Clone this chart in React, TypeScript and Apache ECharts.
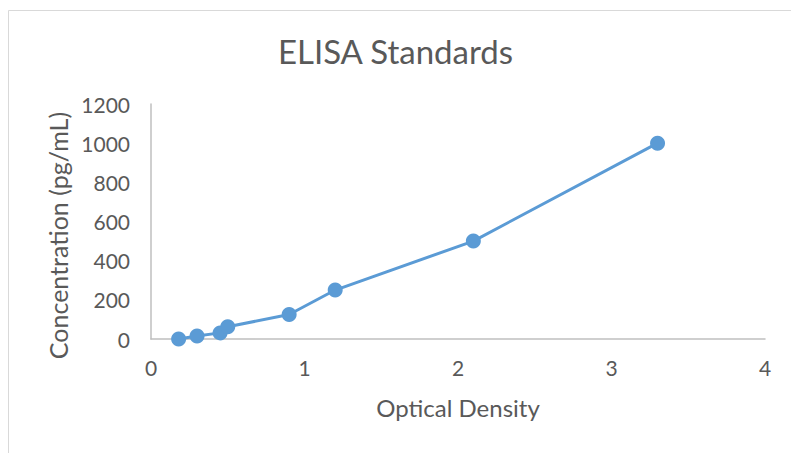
import React, { useEffect, useRef } from "react";
import * as echarts from "echarts";

const opticalDensity = [0.18, 0.3, 0.45, 0.5, 0.9, 1.2, 2.1, 3.3];
const concentration = [0, 15.6, 31.25, 62.5, 125, 250, 500, 1000];

const TEXT = "#595959";
const FONT = "Lato";

export default function App() {
  const ref = useRef<HTMLDivElement>(null);
  useEffect(() => {
    const chart = echarts.init(ref.current!, undefined, { renderer: "svg" });
    chart.setOption({
      animation: false,
      backgroundColor: "#ffffff",
      title: {
        text: "ELISA Standards",
        left: "center",
        top: 29,
        textStyle: { fontFamily: FONT, fontSize: 33, fontWeight: "normal", color: TEXT },
      },
      graphic: [
        {
          type: "rect",
          shape: { x: 8.5, y: 10.5, width: 800, height: 460 },
          style: { fill: "none", stroke: "#d9d9d9", lineWidth: 1 },
          silent: true,
        },
      ],
      grid: { left: 151, right: 26, top: 104, bottom: 114 },
      xAxis: {
        type: "value",
        min: 0,
        max: 4,
        interval: 1,
        name: "Optical Density",
        nameLocation: "middle",
        nameGap: 56,
        nameTextStyle: { fontFamily: FONT, fontSize: 24, color: TEXT },
        axisLine: { show: true, lineStyle: { color: "#bfbfbf", width: 1.5 } },
        axisTick: { show: false },
        axisLabel: { fontFamily: FONT, fontSize: 21, color: TEXT, margin: 18 },
        splitLine: { show: false },
      },
      yAxis: {
        type: "value",
        min: 0,
        max: 1200,
        interval: 200,
        name: "Concentration (pg/mL)",
        nameLocation: "middle",
        nameGap: 76,
        nameTextStyle: {
          fontFamily: FONT,
          fontSize: 25,
          color: TEXT,
          padding: [0, 28, 0, 0],
        },
        axisLine: { show: true, lineStyle: { color: "#bfbfbf", width: 1.5 } },
        axisTick: { show: false },
        axisLabel: {
          fontFamily: FONT,
          fontSize: 21,
          color: TEXT,
          margin: 21,
          formatter: (v: number) => String(v),
        },
        splitLine: { show: false },
      },
      series: [
        {
          type: "line",
          data: opticalDensity.map((x, i) => [x, concentration[i]]),
          symbol: "circle",
          symbolSize: 15,
          lineStyle: { color: "#5b9bd5", width: 3 },
          itemStyle: { color: "#5b9bd5" },
        },
      ],
    });
    return () => chart.dispose();
  }, []);
  return (
    <div
      ref={ref}
      style={{ position: "absolute", left: 0, top: 0, width: 791, height: 453 }}
    />
  );
}
